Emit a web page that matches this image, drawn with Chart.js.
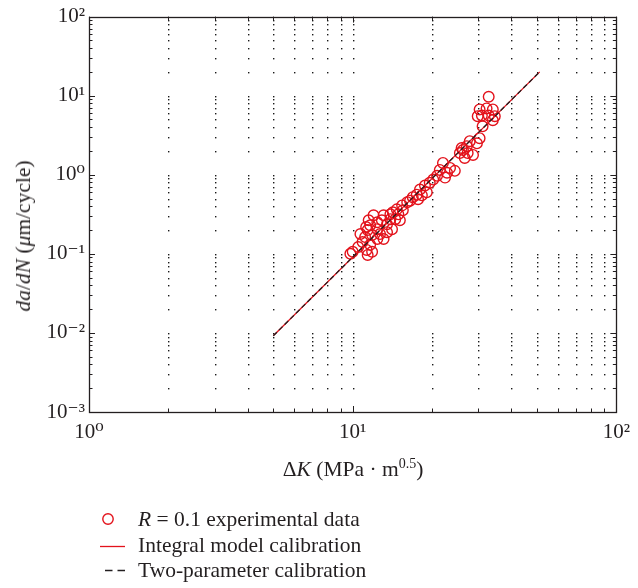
<!DOCTYPE html>
<html><head><meta charset="utf-8">
<script src="https://cdn.jsdelivr.net/npm/chart.js@4.4.1/dist/chart.umd.min.js"></script>
<style>
html,body{margin:0;padding:0;background:#fff;}
#wrap{position:relative;width:638px;height:588px;font-family:"Liberation Serif","DejaVu Serif",serif;color:#231f20;overflow:hidden;}
canvas{position:absolute;left:0;top:0;}
.t{position:absolute;white-space:nowrap;font-size:21.5px;line-height:22px;}
.t sup{font-size:14px;vertical-align:0;position:relative;top:-8px;}
svg{position:absolute;}
</style></head>
<body><div id="wrap"><canvas id="c" width="638" height="588"></canvas>
<div class="t" style="left:353px;top:458px;transform:translateX(-50%)">Δ<i>K</i> (MPa · m<sup>0.5</sup>)</div>
<div class="t" style="left:23px;top:236px;transform:translate(-50%,-50%) rotate(-90deg)"><i>da</i>/<i>dN</i> (<i>μ</i>m/cycle)</div>
<svg style="left:100px;top:511px" width="16" height="16"><circle cx="8" cy="8" r="5.2" fill="none" stroke="#e3121b" stroke-width="1.4"/></svg>
<div class="t" style="left:138px;top:508px"><i>R</i> = 0.1 experimental data</div>
<svg style="left:98px;top:538px" width="30" height="16"><line x1="2" y1="8.5" x2="27" y2="8.5" stroke="#e3121b" stroke-width="1.3"/></svg>
<div class="t" style="left:138px;top:534px">Integral model calibration</div>
<svg style="left:98px;top:562px" width="30" height="16"><line x1="7" y1="8.5" x2="27" y2="8.5" stroke="#231f20" stroke-width="1.3" stroke-dasharray="7.5,5"/></svg>
<div class="t" style="left:138px;top:559px">Two-parameter calibration</div>
</div>
<script>
// Experimental data, R = 0.1
const deltaK = [32.8,30.3,32.2,34.0,30.9,32.8,34.6,29.8,34.0,31.1,
  30.3,27.8,29.6,27.1,26.2,27.3,28.6,25.9,25.5,26.6,
  22.0,23.4,24.4,21.4,22.8,20.9,22.4,20.2,19.6,18.8,
  18.0,19.1,17.5,18.3,16.9,17.7,16.5,16.1,15.4,14.7,
  15.5,14.2,14.9,13.9,13.1,13.9,12.9,12.4,13.5,14.5,
  15.1,11.65,12.4,11.4,12.7,11.85,11.15,12.4,13.5,13.1,
  14.1,10.9,11.65,10.5,11.85,11.3,10.0,9.8,11.4,11.5,
  12.0,11.25,10.7];
const dadN = [9.7,6.7,6.9,6.7,5.6,5.6,5.5,5.5,4.9,4.1,
  2.9,2.66,2.5,2.3,2.05,1.88,1.78,2.18,1.88,1.63,
  1.41,1.22,1.12,1.15,1.06,0.97,0.92,0.87,0.79,0.73,
  0.65,0.6,0.56,0.55,0.52,0.49,0.47,0.45,0.41,0.365,
  0.355,0.335,0.316,0.316,0.307,0.274,0.266,0.251,0.237,0.274,
  0.266,0.23,0.205,0.2,0.178,0.173,0.163,0.154,0.188,0.154,
  0.205,0.141,0.13,0.122,0.106,0.112,0.106,0.1,0.097,0.266,
  0.307,0.218,0.178];
// Calibration lines (end points)
const integralK = [5.0, 51.2];
const integralRate = [0.0092, 20.0];
const twoParamK = [5.0, 51.2];
const twoParamRate = [0.0092, 20.0];
// Axis ranges
const xRange = [1, 100];
const yRange = [0.001, 100];

const toPts = (xs, ys) => xs.map((x, i) => ({x: x, y: ys[i]}));
const sup = {'0':'⁰','1':'¹','2':'²','3':'³','4':'⁴','5':'⁵','-':'⁻'};
function decadeLabel(v){
  const e = Math.log10(v);
  if (Math.abs(e - Math.round(e)) > 1e-9) return '';
  return '10' + String(Math.round(e)).split('').map(c => sup[c]).join('');
}
function tickValues(min, max){
  const out = [];
  for (let k = Math.round(Math.log10(min)); k < Math.round(Math.log10(max)); k++)
    for (let j = 1; j <= 9; j++) out.push({v: j * Math.pow(10, k), major: j === 1});
  out.push({v: max, major: true});
  return out;
}
const INK = '#231f20';
const framePlugin = {
  id: 'frame',
  beforeDatasetsDraw(chart){
    const {ctx, chartArea: a, scales} = chart;
    const xs = tickValues(xRange[0], xRange[1]).map(t => Math.round(scales.x.getPixelForValue(t.v)));
    const ys = tickValues(yRange[0], yRange[1]).map(t => Math.round(scales.y.getPixelForValue(t.v)));
    ctx.save();
    ctx.fillStyle = '#1a1a1a';
    xs.forEach(px => { if (px <= a.left + 1 || px >= a.right - 1) return;
      ys.forEach(py => { if (py <= a.top + 1 || py >= a.bottom - 1) return; ctx.fillRect(px, py, 1.4, 1.4); }); });
    ctx.restore();
  },
  afterDatasetsDraw(chart){
    const {ctx, chartArea: a, scales} = chart;
    ctx.save();
    ctx.strokeStyle = INK; ctx.lineWidth = 1;
    ctx.beginPath();
    tickValues(xRange[0], xRange[1]).forEach(t => {
      const px = Math.round(scales.x.getPixelForValue(t.v)) + 0.5; const L = t.major ? 6 : 3.5;
      ctx.moveTo(px, a.bottom); ctx.lineTo(px, a.bottom - L);
      ctx.moveTo(px, a.top); ctx.lineTo(px, a.top + L);
    });
    tickValues(yRange[0], yRange[1]).forEach(t => {
      const py = Math.round(scales.y.getPixelForValue(t.v)) + 0.5; const L = t.major ? 6 : 3.5;
      ctx.moveTo(a.left, py); ctx.lineTo(a.left + L, py);
      ctx.moveTo(a.right, py); ctx.lineTo(a.right - L, py);
    });
    ctx.stroke();
    ctx.lineWidth = 1.3;
    ctx.strokeRect(Math.round(a.left) + 0.5, Math.round(a.top) + 0.5, Math.round(a.right - a.left), Math.round(a.bottom - a.top));
    ctx.restore();
  }
};
const tickFont = {family: '"Liberation Serif","DejaVu Serif",serif', size: 21};
new Chart(document.getElementById('c'), {
  type: 'scatter',
  data: {datasets: [
    {label: 'Two-parameter calibration', data: toPts(twoParamK, twoParamRate), showLine: true,
     borderColor: INK, borderWidth: 1.3, borderDash: [5, 3], pointRadius: 0, order: 1},
    {label: 'Integral model calibration', data: toPts(integralK, integralRate), showLine: true,
     borderColor: '#e3121b', borderWidth: 1.3, pointRadius: 0, order: 2},
    {label: 'R = 0.1 experimental data', data: toPts(deltaK, dadN), showLine: false,
     pointStyle: 'circle', pointRadius: 5.3, pointBorderWidth: 1.4, borderColor: '#e3121b',
     backgroundColor: 'rgba(0,0,0,0)', order: 3}
  ]},
  options: {
    responsive: false, animation: false, devicePixelRatio: 1,
    layout: {padding: {left: 0, top: 13, right: 21, bottom: 0}},
    plugins: {legend: {display: false}, tooltip: {enabled: false}},
    scales: {
      x: {type: 'logarithmic', min: xRange[0], max: xRange[1],
          grid: {display: false, drawTicks: false}, border: {display: false},
          afterFit: s => { s.height = 176; },
          ticks: {autoSkip: false, maxRotation: 0, padding: 8, color: INK, font: tickFont, callback: v => decadeLabel(v)}},
      y: {type: 'logarithmic', min: yRange[0], max: yRange[1],
          grid: {display: false, drawTicks: false}, border: {display: false},
          afterFit: s => { s.width = 89; },
          ticks: {autoSkip: false, padding: 4, color: INK, font: tickFont, callback: v => decadeLabel(v)}}
    }
  },
  plugins: [framePlugin]
});
</script>
</body></html>
